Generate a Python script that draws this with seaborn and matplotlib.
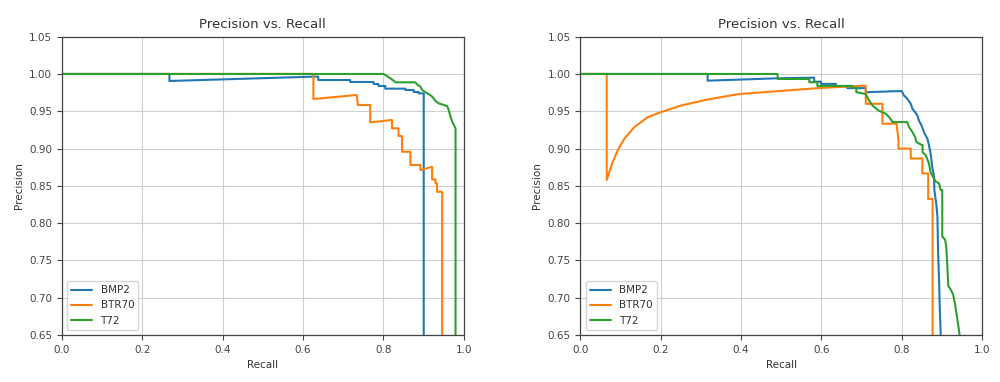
import pandas as pd
import matplotlib
matplotlib.use("Agg")
import matplotlib.pyplot as plt
import seaborn as sns

# class names
classes = ["BMP2", "BTR70", "T72"]

# left panel: recall / precision vertices
left_bmp2_r = [0, 0.2675, 0.2675, 0.626, 0.638, 0.638, 0.7175, 0.7175, 0.7758, 0.7758,
               0.788, 0.788, 0.805, 0.805, 0.855, 0.855, 0.876, 0.876, 0.888, 0.888,
               0.9008, 0.9008]
left_bmp2_p = [1.0, 1.0, 0.9906, 0.9964, 0.9964, 0.9919, 0.9919, 0.9893, 0.9893, 0.9866,
               0.9866, 0.9839, 0.9839, 0.9803, 0.9803, 0.9785, 0.9785, 0.9758, 0.9758, 0.974,
               0.974, 0.65]

left_btr70_r = [0, 0.626, 0.626, 0.734, 0.7367, 0.7675, 0.7675, 0.8217, 0.8217, 0.838,
                0.838, 0.8467, 0.8467, 0.8675, 0.8675, 0.8925, 0.8925, 0.9217, 0.9217, 0.93,
                0.93, 0.934, 0.934, 0.9467, 0.9467]
left_btr70_p = [1.0, 1.0, 0.9664, 0.9718, 0.9584, 0.9584, 0.9351, 0.9383, 0.9271, 0.9271,
                0.9168, 0.9168, 0.8957, 0.8957, 0.8779, 0.8779, 0.8711, 0.8756, 0.8586, 0.8586,
                0.8533, 0.8533, 0.842, 0.842, 0.65]

left_t72_r = [0, 0.801, 0.8075, 0.8175, 0.826, 0.83, 0.88, 0.884, 0.8925, 0.897, 0.905,
              0.913, 0.922, 0.93, 0.938, 0.959, 0.963, 0.9675, 0.9717, 0.976, 0.98, 0.98]
left_t72_p = [1.0, 1.0, 0.9978, 0.9942, 0.991, 0.9888, 0.9888, 0.9861, 0.983, 0.9785, 0.9754,
              0.973, 0.9696, 0.9638, 0.9606, 0.957, 0.9517, 0.9427, 0.936, 0.9316, 0.927, 0.65]

# right panel
right_bmp2_r = [0, 0.3167, 0.3167, 0.49, 0.582, 0.582, 0.599, 0.599, 0.636, 0.636, 0.661,
                0.665, 0.7106, 0.7106, 0.79, 0.80, 0.806, 0.814, 0.8226, 0.8267, 0.8333,
                0.839, 0.843, 0.85, 0.857, 0.864, 0.868, 0.872, 0.876, 0.8806, 0.8814,
                0.8864, 0.889, 0.8905, 0.893, 0.8947, 0.8972]
right_bmp2_p = [1.0, 1.0, 0.991, 0.9942, 0.995, 0.9897, 0.9897, 0.9867, 0.9867, 0.9835, 0.9835,
                0.981, 0.981, 0.9755, 0.977, 0.977, 0.971, 0.9667, 0.96, 0.9533, 0.9489,
                0.9444, 0.9377, 0.93, 0.92, 0.9133, 0.9044, 0.8933, 0.8756, 0.8622, 0.8444,
                0.8244, 0.8089, 0.7644, 0.7244, 0.6889, 0.65]

right_btr70_r = [0, 0.0655, 0.0655, 0.0721, 0.0804, 0.0929, 0.1095, 0.1343, 0.1675, 0.2007,
                 0.2504, 0.3167, 0.383, 0.4, 0.6, 0.7106, 0.7106, 0.752, 0.752, 0.787, 0.792,
                 0.792, 0.8226, 0.8226, 0.8515, 0.8515, 0.866, 0.866, 0.877, 0.877]
right_btr70_p = [1.0, 1.0, 0.8578, 0.8688, 0.882, 0.8977, 0.9133, 0.9288, 0.9421, 0.9488,
                 0.9577, 0.9657, 0.972, 0.9733, 0.9813, 0.9844, 0.96, 0.96, 0.9333, 0.9333,
                 0.912, 0.900, 0.900, 0.8867, 0.8867, 0.8667, 0.8667, 0.8324, 0.8324, 0.65]

right_t72_r = [0, 0.491, 0.491, 0.57, 0.57, 0.59, 0.59, 0.677, 0.68, 0.687, 0.687, 0.71,
               0.719, 0.727, 0.742, 0.76, 0.769, 0.777, 0.814, 0.818, 0.8267, 0.8333, 0.8367,
               0.843, 0.852, 0.852, 0.86, 0.868, 0.872, 0.878, 0.885, 0.893, 0.897, 0.901,
               0.901, 0.908, 0.911, 0.9137, 0.916, 0.922, 0.928, 0.933, 0.9386, 0.9428, 0.944]
right_t72_p = [1.0, 1.0, 0.9933, 0.9933, 0.9889, 0.9889, 0.9840, 0.9840, 0.9813, 0.9813, 0.9755,
               0.9733, 0.9644, 0.9578, 0.9511, 0.9467, 0.9422, 0.9355, 0.9355, 0.9289, 0.9222,
               0.9155, 0.9089, 0.9067, 0.9044, 0.895, 0.891, 0.88, 0.868, 0.862, 0.8556, 0.8533,
               0.8444, 0.8444, 0.7822, 0.7778, 0.7689, 0.7422, 0.7156, 0.7111, 0.7044, 0.6911,
               0.6711, 0.6556, 0.65]


def build(curves):
    frames = []
    for name, (r, p) in zip(classes, curves):
        frames.append(pd.DataFrame({"Recall": r, "Precision": p, "cls": name}))
    return pd.concat(frames, ignore_index=True)


left = build([(left_bmp2_r, left_bmp2_p), (left_btr70_r, left_btr70_p), (left_t72_r, left_t72_p)])
right = build([(right_bmp2_r, right_bmp2_p), (right_btr70_r, right_btr70_p),
               (right_t72_r, right_t72_p)])

sns.set_style("ticks", {"axes.grid": True, "grid.color": "#cfcfcf", "axes.edgecolor": "#444444",
                        "text.color": "#333333", "xtick.color": "#444444",
                        "ytick.color": "#444444", "axes.labelcolor": "#333333"})
palette = dict(zip(classes, sns.color_palette("tab10", 3)))

fig, axes = plt.subplots(1, 2, figsize=(10, 3.82), dpi=100)
fig.subplots_adjust(left=0.062, right=0.982, bottom=0.123, top=0.904, wspace=0.291)

for ax, df in zip(axes, [left, right]):
    sns.lineplot(data=df, x="Recall", y="Precision", hue="cls", palette=palette,
                 sort=False, estimator=None, linewidth=1.5, ax=ax)
    ax.set_xlim(0, 1.0)
    ax.set_ylim(0.65, 1.05)
    ax.set_xticks([0, 0.2, 0.4, 0.6, 0.8, 1.0])
    ax.set_yticks([0.65, 0.70, 0.75, 0.80, 0.85, 0.90, 0.95, 1.00, 1.05])
    ax.set_yticklabels(["%.2f" % v for v in ax.get_yticks()])
    ax.tick_params(labelsize=7.5, length=3.5, width=0.8)
    ax.set_xlabel("Recall", fontsize=7.5)
    ax.set_ylabel("Precision", fontsize=7.5)
    ax.set_title("Precision vs. Recall", fontsize=9.5)
    for s in ax.spines.values():
        s.set_linewidth(0.9)
    handles, labels = ax.get_legend_handles_labels()
    ax.legend(handles, labels, loc="lower left", fontsize=7.5, frameon=True)

plt.savefig("out.png", dpi=100)
